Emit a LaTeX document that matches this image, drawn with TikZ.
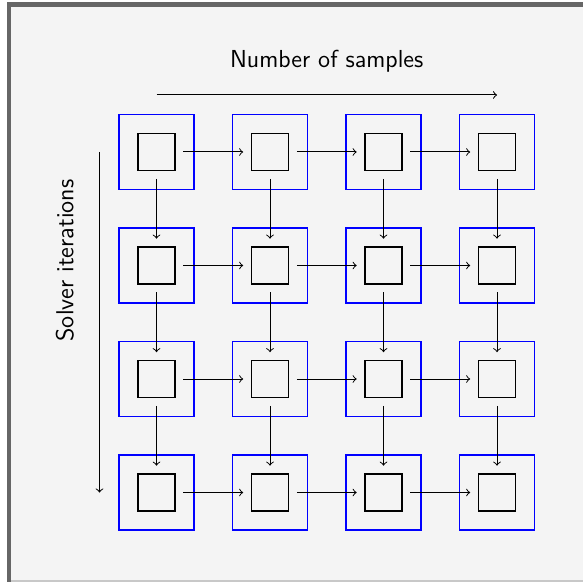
\documentclass[tikz,border=0pt]{standalone}
\definecolor{bgfill}{HTML}{F4F4F4}
\definecolor{framegray}{HTML}{666666}
\definecolor{edgegray}{HTML}{C8C8C8}
\begin{document}
\begin{tikzpicture}[x=0.5pt,y=-0.5pt,
  outerbox/.style={draw=blue, line width=0.6pt, minimum size=37.5pt, inner sep=0pt, outer sep=0pt},
  innerbox/.style={draw=black, line width=0.65pt, minimum size=18.6pt, inner sep=0pt},
  link/.style={->, line width=0.5pt, shorten <=3.8pt, shorten >=3.8pt},
  axis/.style={->, line width=0.5pt},
  label/.style={font=\sffamily\fontsize{12.3}{15}\selectfont}]
\useasboundingbox (0,0) rectangle (583,582);
\fill[bgfill] (7,3) rectangle (583,582);
\draw[framegray, line width=2.2pt] (9,582) -- (9,4.7) -- (583,4.7);
\draw[edgegray, line width=0.6pt] (11,581) -- (583,581);
\foreach \i in {0,...,3}{
  \foreach \j in {0,...,3}{
    \node[outerbox] (o\i\j) at ({156.5+113.5*\i},{152+113.5*\j}) {};
    \node[innerbox] (n\i\j) at (o\i\j) {};
  }
}
\foreach \i/\k in {0/1,1/2,2/3}{
  \foreach \j in {0,...,3}{
    \draw[link] (n\i\j) -- (n\k\j);
    \draw[link] (n\j\i) -- (n\j\k);
  }
}
\coordinate (ts) at (156.5,95);
\coordinate (te) at (497,95);
\draw[axis] (ts) -- (te);
\node[label, anchor=base] (tl) at (326.7,67.7) {Number of samples};
\coordinate (ls) at (99.5,152);
\coordinate (le) at (99.5,492.5);
\draw[axis] (ls) -- (le);
\node[label, rotate=90, anchor=base] (ll) at (73.3,260.5) {Solver iterations};
\end{tikzpicture}
\end{document}
